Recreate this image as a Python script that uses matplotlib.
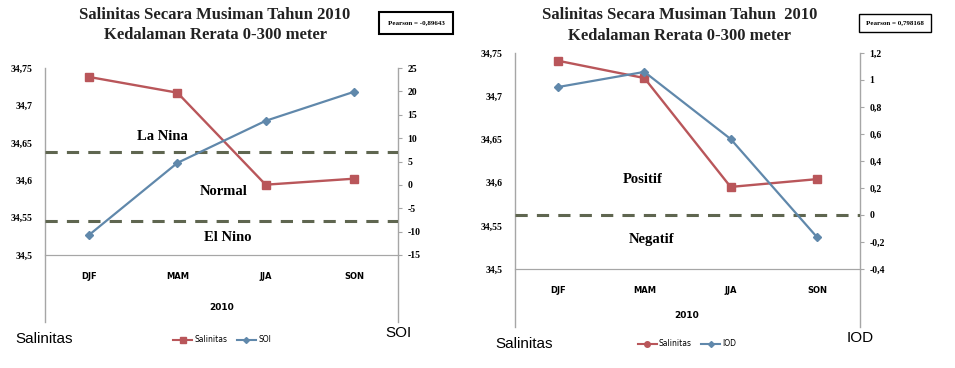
import matplotlib.pyplot as plt
from matplotlib.lines import Line2D

W, H = 955, 368

seasons = ["DJF", "MAM", "JJA", "SON"]
sal_left = [34.738, 34.717, 34.594, 34.602]
soi = [-10.7, 4.7, 13.7, 19.9]
sal_right = [34.741, 34.721, 34.595, 34.604]
iod = [0.948, 1.06, 0.563, -0.163]

sal_ticks = [34.5, 34.55, 34.6, 34.65, 34.7, 34.75]
sal_ticklabels = ["34,5", "34,55", "34,6", "34,65", "34,7", "34,75"]
soi_ticks = [-15, -10, -5, 0, 5, 10, 15, 20, 25]
iod_ticks = [-0.4, -0.2, 0, 0.2, 0.4, 0.6, 0.8, 1.0, 1.2]
iod_ticklabels = ["-0,4", "-0,2", "0", "0,2", "0,4", "0,6", "0,8", "1", "1,2"]

soi_thresholds = [7.0, -7.7]
iod_threshold = 0.0

RED = "#b9565a"
BLUE = "#6088ab"
DASH = "#5f6650"
SPINE = "#a6a6a6"
SERIF = "Liberation Serif"


def px(x0, y_top, x1, y_bot):
    return [x0 / W, 1 - y_bot / H, (x1 - x0) / W, (y_bot - y_top) / H]


def setup(ax, ax2, y2_ticks, y2_labels, ext):
    ax.set_xlim(-0.5, 3.5)
    ax.set_ylim(34.5, 34.75)
    ax.set_yticks(sal_ticks)
    ax.set_yticklabels(sal_ticklabels)
    ax.set_xticks(range(4))
    ax.set_xticklabels(seasons)
    ax.tick_params(axis="y", length=0, pad=9, labelsize=7)
    ax.tick_params(axis="x", length=0, pad=12, labelsize=6)
    for lab in ax.get_yticklabels() + ax2.get_yticklabels():
        lab.set_fontfamily(SERIF)
        lab.set_fontweight("bold")
    for lab in ax.get_xticklabels():
        lab.set_fontweight("bold")
    ax2.set_yticks(y2_ticks)
    ax2.set_yticklabels(y2_labels, fontfamily=SERIF, fontweight="bold")
    ax2.tick_params(axis="y", length=3, pad=4, labelsize=7, color=SPINE)
    for a in (ax, ax2):
        for s in ("top", "left", "right"):
            a.spines[s].set_visible(False)
        a.spines["bottom"].set_color(SPINE)
    # vertical axis lines run below the category axis
    for xx in (0, 1):
        ax.plot([xx, xx], [ext, 1], transform=ax.transAxes, color=SPINE,
                lw=1, clip_on=False)


fig = plt.figure(figsize=(W / 100, H / 100), dpi=100)

# ---------------- left chart: salinity vs SOI ----------------
axL = fig.add_axes(px(45, 68, 398, 255))
axL2 = axL.twinx()
axL2.set_ylim(-15, 25)
setup(axL, axL2, soi_ticks, [str(t) for t in soi_ticks], -0.36)
axL.plot(range(4), sal_left, color=RED, lw=1.7, marker="s", ms=6, zorder=3)
axL2.plot(range(4), soi, color=BLUE, lw=1.6, marker="D", ms=4, zorder=3)
for t in soi_thresholds:
    axL2.axhline(t, color=DASH, lw=2.2, ls=(0, (4, 3)))
axL.text(0.83, 34.658, "La Nina", fontsize=10.5, fontweight="bold", family=SERIF,
         ha="center", va="center")
axL.text(1.53, 34.585, "Normal", fontsize=10.5, fontweight="bold", family=SERIF,
         ha="center", va="center")
axL.text(1.57, 34.523, "El Nino", fontsize=10.5, fontweight="bold", family=SERIF,
         ha="center", va="center")

fig.text(215 / W, 1 - 15 / H, "Salinitas Secara Musiman Tahun 2010",
         fontsize=12, fontweight="bold", family=SERIF, ha="center", va="center",
         color="#222222")
fig.text(215 / W, 1 - 35 / H, "Kedalaman Rerata 0-300 meter",
         fontsize=12, fontweight="bold", family=SERIF, ha="center", va="center",
         color="#222222")
fig.text(416 / W, 1 - 23 / H, "Pearson = -0,89643", fontsize=5, fontweight="bold",
         family=SERIF, ha="center", va="center",
         bbox=dict(boxstyle="square,pad=1.2", fc="white", ec="black", lw=1.5))
fig.text(222 / W, 1 - 308 / H, "2010", fontsize=6.5, fontweight="bold",
         ha="center", va="center")
fig.text(15 / W, 1 - 339 / H, "Salinitas", fontsize=11, ha="left", va="center",
         family="Liberation Sans")
fig.text(398 / W, 1 - 333 / H, "SOI", fontsize=11, ha="center", va="center",
         family="Liberation Sans")
hL = [Line2D([], [], color=RED, marker="s", ms=4, lw=1.5, label="Salinitas"),
      Line2D([], [], color=BLUE, marker="D", ms=3, lw=1.5, label="SOI")]
fig.legend(handles=hL, loc="center", bbox_to_anchor=(222 / W, 1 - 340 / H),
           ncol=2, frameon=False, fontsize=5.5, handlelength=2.5,
           columnspacing=1.2, handletextpad=0.3)

# ---------------- right chart: salinity vs IOD ----------------
axR = fig.add_axes(px(515, 53, 860, 269))
axR2 = axR.twinx()
axR2.set_ylim(-0.4, 1.2)
setup(axR, axR2, iod_ticks, iod_ticklabels, -0.27)
axR.plot(range(4), sal_right, color=RED, lw=1.7, marker="s", ms=6, zorder=3)
axR2.plot(range(4), iod, color=BLUE, lw=1.6, marker="D", ms=4, zorder=3)
axR2.axhline(iod_threshold, color=DASH, lw=2.2, ls=(0, (4, 3)))
axR.text(0.98, 34.604, "Positif", fontsize=10.5, fontweight="bold", family=SERIF,
         ha="center", va="center")
axR.text(1.08, 34.534, "Negatif", fontsize=10.5, fontweight="bold", family=SERIF,
         ha="center", va="center")

fig.text(680 / W, 1 - 15 / H, "Salinitas Secara Musiman Tahun  2010",
         fontsize=12, fontweight="bold", family=SERIF, ha="center", va="center",
         color="#222222")
fig.text(680 / W, 1 - 36 / H, "Kedalaman Rerata 0-300 meter",
         fontsize=12, fontweight="bold", family=SERIF, ha="center", va="center",
         color="#222222")
fig.text(895 / W, 1 - 23 / H, "Pearson = 0,798168", fontsize=5, fontweight="bold",
         family=SERIF, ha="center", va="center",
         bbox=dict(boxstyle="square,pad=1.0", fc="white", ec="black", lw=1))
fig.text(687 / W, 1 - 316 / H, "2010", fontsize=6.5, fontweight="bold",
         ha="center", va="center")
fig.text(495 / W, 1 - 344 / H, "Salinitas", fontsize=11, ha="left", va="center",
         family="Liberation Sans")
fig.text(860 / W, 1 - 338 / H, "IOD", fontsize=11, ha="center", va="center",
         family="Liberation Sans")
hR = [Line2D([], [], color=RED, marker="o", ms=4, lw=1.5, label="Salinitas"),
      Line2D([], [], color=BLUE, marker="D", ms=3, lw=1.5, label="IOD")]
fig.legend(handles=hR, loc="center", bbox_to_anchor=(687 / W, 1 - 344 / H),
           ncol=2, frameon=False, fontsize=5.5, handlelength=2.5,
           columnspacing=1.2, handletextpad=0.3)

fig.savefig("out.png", dpi=100)
